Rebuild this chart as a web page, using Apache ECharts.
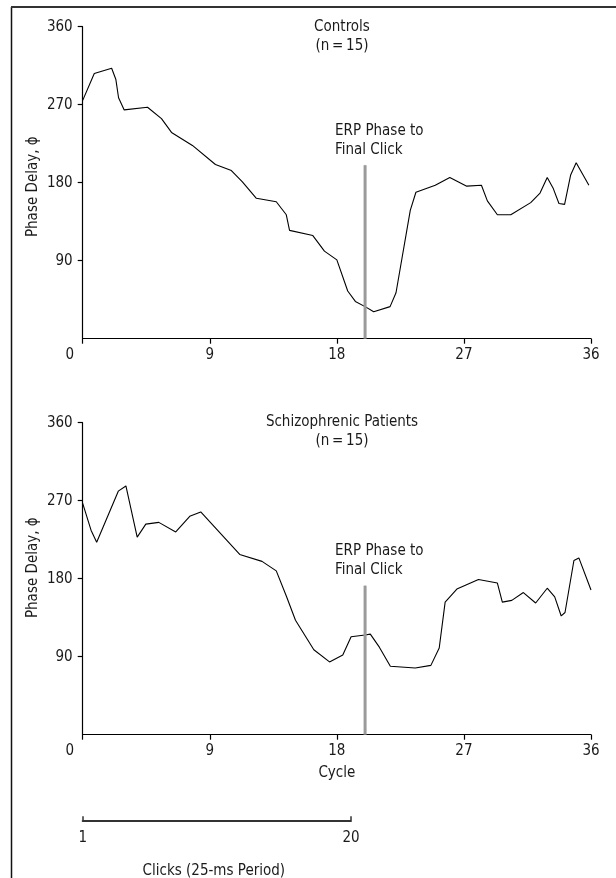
<!DOCTYPE html>
<html><head><meta charset="utf-8">
<script src="https://cdn.jsdelivr.net/npm/echarts@6/dist/echarts.min.js"></script>
<style>html,body{margin:0;padding:0;background:#fff}#c{width:616px;height:878px}</style>
</head><body><div id="c"></div>
<script>
// ---- data ----
const cycleMin = 0, cycleMax = 36, cycleStep = 9;
const phaseMin = 0, phaseMax = 360, phaseStep = 90;
const clickMin = 1, clickMax = 20;
const ctrlCycle = [0, 0.82, 2.05, 2.35, 2.54, 2.94, 4.59, 5.58, 6.29, 7.77, 9.4, 10.53, 11.31, 12.3, 13.71, 14.42, 14.65, 16.3, 17.12, 18.0, 18.77, 19.31, 20.0, 20.61, 21.77, 22.19, 23.2, 23.6, 24.97, 26.0, 27.2, 28.24, 28.66, 29.37, 30.32, 31.73, 32.39, 32.9, 33.31, 33.73, 34.13, 34.56, 34.95, 35.85];
const ctrlPhase = [275, 306, 312, 299, 278, 264, 267, 254, 238, 223, 201, 194, 181, 162, 158, 143, 125, 119, 101, 91, 55, 43, 37, 31, 37, 53, 148, 169, 177, 186, 176, 177, 159, 143, 143, 157, 168, 186, 174, 156, 155, 189, 203, 177];
const schizCycle = [0, 0.59, 0.99, 2.52, 3.06, 3.86, 4.47, 5.39, 6.59, 7.58, 8.36, 11.12, 12.7, 13.71, 14.42, 15.07, 16.37, 17.48, 18.42, 19.01, 20.0, 20.37, 21.01, 21.79, 23.55, 24.66, 25.25, 25.67, 26.5, 28.03, 29.37, 29.72, 30.39, 31.21, 32.08, 32.9, 33.43, 33.89, 34.16, 34.79, 35.14, 36.0];
const schizPhase = [267, 236, 222, 281, 287, 228, 243, 245, 234, 252, 257, 208, 200, 189, 160, 132, 98, 84, 92, 113, 115, 116, 101, 79, 77, 80, 100, 153, 168, 179, 175, 153, 155, 164, 152, 169, 159, 137, 141, 201, 204, 167];
const erpCycle = 20;
const erpTop = [200, 172];
const panelTitles = ['Controls\n(n\u2009=\u200915)', 'Schizophrenic Patients\n(n\u2009=\u200915)'];
const erpText = 'ERP Phase to\nFinal Click';
const yName = 'Phase Delay, \u03d5';
const xName = 'Cycle';
const clickName = 'Clicks (25-ms Period)';

// ---- layout ----
const FONT = '"Liberation Sans Narrow","Arial Narrow","DejaVu Sans Condensed",sans-serif';
const FS = 15;
const L = 82.7, W = 508.3;
const tops = [26.7, 422.7], H = 312;
const txt = '#1a1a1a';

function zip(a, b) { return a.map((v, i) => [v, b[i]]); }

const grids = [
  {left: L, top: tops[0], width: W, height: H},
  {left: L, top: tops[1], width: W, height: H},
  {left: L, top: 820, width: W * (clickMax - clickMin) / (cycleMax - cycleMin), height: 1}
];

function xAx(i, showName) {
  return {
    type: 'value', gridIndex: i, min: cycleMin, max: cycleMax, interval: cycleStep,
    axisLine: {show: true, onZero: false, lineStyle: {color: '#000', width: 1.2}},
    axisTick: {show: true, inside: false, length: 5, lineStyle: {color: '#000', width: 1.2}},
    splitLine: {show: false},
    axisLabel: {
      color: txt, fontFamily: FONT, fontSize: FS, margin: 9,
      formatter: v => v === cycleMin ? '{o|' + v + '}' : String(v),
      rich: {o: {padding: [0, 26, 0, 0], color: txt, fontFamily: FONT, fontSize: FS}}
    },
    name: showName ? xName : '', nameLocation: 'middle', nameGap: 31, nameMoveOverlap: false,
    nameTextStyle: {color: txt, fontFamily: FONT, fontSize: FS}
  };
}
function yAx(i, pad) {
  return {
    type: 'value', gridIndex: i, min: phaseMin, max: phaseMax, interval: phaseStep,
    axisLine: {show: true, onZero: false, lineStyle: {color: '#000', width: 1.2}},
    axisTick: {show: true, inside: false, length: 5, lineStyle: {color: '#000', width: 1.2}},
    splitLine: {show: false},
    axisLabel: {color: txt, fontFamily: FONT, fontSize: FS, margin: 10, showMinLabel: false},
    name: yName, nameLocation: 'middle', nameGap: 42, nameRotate: 90, nameMoveOverlap: false,
    nameTextStyle: {color: txt, fontFamily: FONT, fontSize: FS, padding: pad}
  };
}

function erpSeries(i) {
  return {
    type: 'line', xAxisIndex: i, yAxisIndex: i, symbol: 'none', silent: true,
    lineStyle: {color: '#9a9a9a', width: 3},
    data: [
      [erpCycle, phaseMin],
      {value: [erpCycle, erpTop[i]], symbol: 'circle', symbolSize: 1,
       itemStyle: {color: '#9a9a9a'},
       label: {show: true, formatter: erpText, position: 'top', distance: 6,
               align: 'left', offset: [-30, 0], color: txt, fontFamily: FONT,
               fontSize: FS, lineHeight: 18.5}}
    ]
  };
}

const option = {
  animation: false,
  backgroundColor: '#fff',
  grid: grids,
  xAxis: [
    xAx(0, false), xAx(1, true),
    {type: 'value', gridIndex: 2, min: clickMin, max: clickMax, interval: clickMax - clickMin,
     axisLine: {show: true, onZero: false, lineStyle: {color: '#333', width: 2}},
     axisTick: {show: true, inside: true, length: 4, lineStyle: {color: '#333', width: 1.5}},
     splitLine: {show: false},
     axisLabel: {color: txt, fontFamily: FONT, fontSize: FS, margin: 10},
     name: clickName, nameLocation: 'middle', nameGap: 43, nameMoveOverlap: false,
     nameTextStyle: {color: txt, fontFamily: FONT, fontSize: FS, padding: [0, 6, 0, 0]}}
  ],
  yAxis: [
    yAx(0, [0, 8, 0, 0]), yAx(1, [0, 0, 0, 22]),
    {type: 'value', gridIndex: 2, min: 0, max: 1, show: false}
  ],
  graphic: [
    {type: 'line', shape: {x1: 11.5, y1: 7, x2: 11.5, y2: 878}, style: {stroke: '#111', lineWidth: 1.5}, silent: true},
    {type: 'line', shape: {x1: 11, y1: 7, x2: 616, y2: 7}, style: {stroke: '#333', lineWidth: 2}, silent: true},
    {type: 'text', x: 342, y: 18, silent: true,
     style: {text: panelTitles[0], align: 'center', verticalAlign: 'top', fill: txt, font: FS + 'px ' + FONT, lineHeight: 19}},
    {type: 'text', x: 342, y: 413, silent: true,
     style: {text: panelTitles[1], align: 'center', verticalAlign: 'top', fill: txt, font: FS + 'px ' + FONT, lineHeight: 19}}
  ],
  series: [
    {type: 'line', xAxisIndex: 0, yAxisIndex: 0, symbol: 'none', data: zip(ctrlCycle, ctrlPhase),
     lineStyle: {color: '#000', width: 1.1}},
    {type: 'line', xAxisIndex: 1, yAxisIndex: 1, symbol: 'none', data: zip(schizCycle, schizPhase),
     lineStyle: {color: '#000', width: 1.1}},
    erpSeries(0), erpSeries(1)
  ]
};
const chart = echarts.init(document.getElementById('c'), null, {renderer: 'canvas'});
chart.setOption(option);
</script>
</body></html>
